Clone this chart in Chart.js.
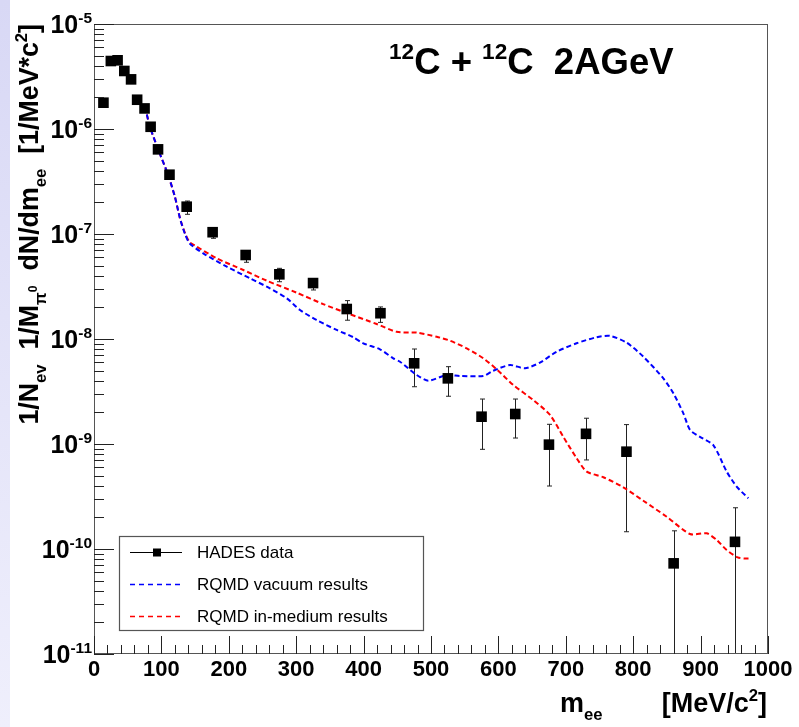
<!DOCTYPE html>
<html>
<head>
<meta charset="utf-8">
<script src="https://cdn.jsdelivr.net/npm/chart.js@4.4.1/dist/chart.umd.min.js"></script>
<style>
html,body{margin:0;padding:0;background:#fff;overflow:hidden;}
#wrap{position:relative;width:799px;height:727px;}
#strip{position:absolute;left:0;top:0;width:10px;height:727px;background:linear-gradient(#d8d8f5,#efeffc);}
#c{position:absolute;left:0;top:0;}
</style>
</head>
<body>
<div id="wrap"><div id="strip"></div><canvas id="c" width="799" height="727"></canvas></div>
<script>
// ---------- data ----------
const seriesNames = ['HADES data', 'RQMD vacuum results', 'RQMD in-medium results'];

const hadesMass  = [14, 25, 35, 45, 55, 64, 75, 84, 95, 112, 137.5, 176, 225, 275, 325, 375, 425, 475, 525, 575, 625, 675, 730, 790, 860, 951];
const hadesYield = [1.78e-6, 4.44e-6, 4.51e-6, 3.57e-6, 2.97e-6, 1.90e-6, 1.57e-6, 1.05e-6, 6.4e-7, 3.67e-7, 1.82e-7, 1.04e-7, 6.31e-8, 4.13e-8, 3.41e-8, 1.93e-8, 1.76e-8, 5.87e-9, 4.22e-9, 1.82e-9, 1.93e-9, 9.86e-10, 1.25e-9, 8.45e-10, 7.3e-11, 1.17e-10];
const hadesUpper = [1.82e-6, 4.5e-6, 4.6e-6, 3.65e-6, 3.03e-6, 1.94e-6, 1.6e-6, 1.08e-6, 6.6e-7, 3.8e-7, 2.06e-7, 1.15e-7, 6.93e-8, 4.71e-8, 3.73e-8, 2.32e-8, 2.02e-8, 8.03e-9, 5.45e-9, 2.68e-9, 2.68e-9, 1.54e-9, 1.76e-9, 1.53e-9, 1.49e-10, 2.47e-10];
const hadesLower = [1.74e-6, 4.38e-6, 4.42e-6, 3.5e-6, 2.91e-6, 1.86e-6, 1.54e-6, 1.02e-6, 6.2e-7, 3.55e-7, 1.54e-7, 9.1e-8, 5.38e-8, 3.51e-8, 2.93e-8, 1.51e-8, 1.44e-8, 3.51e-9, 2.85e-9, 8.9e-10, 1.14e-9, 3.98e-10, 7.05e-10, 1.46e-10, 0, 0];

const vacuumMass  = [75.7, 83, 95.5, 110, 120, 127.6, 135, 142, 162, 197, 231.5, 261, 286, 305.6, 330, 360, 384.8, 399.5, 424.3, 444, 454, 478.8, 496, 523.3, 543, 577.6, 592.4, 617.2, 639.5, 661.7, 686.5, 716, 745.8, 765.6, 790.3, 815, 844.7, 859.6, 874.4, 884.3, 899, 918.8, 938.7, 953.5, 970.8];
const vacuumYield = [1.63e-6, 1.05e-6, 6.31e-7, 3.65e-7, 2.26e-7, 1.41e-7, 1.0e-7, 8.13e-8, 6.55e-8, 4.89e-8, 3.78e-8, 3.04e-8, 2.44e-8, 1.89e-8, 1.52e-8, 1.22e-8, 1.04e-8, 9.1e-9, 7.98e-9, 6.55e-9, 6.08e-9, 4.54e-9, 4.01e-9, 4.54e-9, 4.45e-9, 4.45e-9, 4.99e-9, 5.65e-9, 5.26e-9, 5.96e-9, 7.57e-9, 9.1e-9, 1.04e-8, 1.07e-8, 9.23e-9, 6.79e-9, 4.22e-9, 3.04e-9, 1.96e-9, 1.36e-9, 1.17e-9, 9.77e-10, 5.46e-10, 3.93e-10, 3.04e-10];

const mediumMass  = [75.7, 83, 95.5, 110, 120, 127.6, 135, 142, 150, 182, 221.5, 256, 300.7, 340, 380, 419.4, 449, 478.8, 508.5, 528.2, 553, 577.6, 597.5, 622, 651.8, 676.6, 696.3, 716.2, 731, 755.7, 785.3, 815, 849.7, 884.3, 909, 923.8, 938.7, 955, 965, 975];
const mediumYield = [1.63e-6, 1.05e-6, 6.31e-7, 3.65e-7, 2.26e-7, 1.41e-7, 1.02e-7, 8.32e-8, 7.74e-8, 5.87e-8, 4.54e-8, 3.6e-8, 2.76e-8, 2.15e-8, 1.72e-8, 1.39e-8, 1.17e-8, 1.15e-8, 1.05e-8, 9.64e-9, 8.15e-9, 6.55e-9, 5.14e-9, 3.65e-9, 2.62e-9, 1.89e-9, 1.17e-9, 7.31e-10, 5.46e-10, 4.82e-10, 3.87e-10, 2.88e-10, 2.03e-10, 1.39e-10, 1.41e-10, 1.22e-10, 9.77e-11, 8.32e-11, 8.13e-11, 8.13e-11];

const xTickValues = [0, 100, 200, 300, 400, 500, 600, 700, 800, 900, 1000];
const yTickExponents = [-5, -6, -7, -8, -9, -10, -11];

// ---------- drawing helpers ----------
const FONT = "'Liberation Sans', Arial, Helvetica, sans-serif";
function segFont(kind, size, bold) {
  const f = kind === 'n' ? 1 : (kind === 'subsup' ? 0.45 : 0.62);
  return (bold ? 'bold ' : '') + (size * f).toFixed(1) + 'px ' + FONT;
}
function segDy(kind, size) {
  if (kind === 'sub') return 0.28 * size;
  if (kind === 'sup') return -0.42 * size;
  if (kind === 'subsup') return -0.02 * size;
  return 0;
}
function richWidth(ctx, segs, size, bold) {
  let w = 0;
  segs.forEach(([t, k]) => { ctx.font = segFont(k, size, bold); w += ctx.measureText(t).width; });
  return w;
}
function drawRich(ctx, segs, x, y, size, bold) {
  let cx = x;
  ctx.textBaseline = 'alphabetic';
  ctx.textAlign = 'left';
  segs.forEach(([t, k]) => {
    ctx.font = segFont(k, size, bold);
    ctx.fillText(t, cx, y + segDy(k, size));
    cx += ctx.measureText(t).width;
  });
}

const rootDecor = {
  id: 'rootDecor',
  beforeDatasetsDraw(chart) {
    const { ctx, chartArea: a, scales: { x, y } } = chart;
    ctx.save();
    ctx.beginPath();
    ctx.rect(a.left, a.top, a.right - a.left, a.bottom - a.top);
    ctx.clip();
    ctx.strokeStyle = '#222';
    ctx.lineWidth = 1;
    hadesMass.forEach((m, i) => {
      const px = Math.round(x.getPixelForValue(m)) + 0.5;
      const yt = y.getPixelForValue(hadesUpper[i]);
      const yb = hadesLower[i] > 0 ? y.getPixelForValue(hadesLower[i]) : a.bottom + 5;
      ctx.beginPath();
      ctx.moveTo(px, yt); ctx.lineTo(px, yb);
      ctx.moveTo(px - 2.5, yt); ctx.lineTo(px + 2.5, yt);
      if (hadesLower[i] > 0) { ctx.moveTo(px - 2.5, yb); ctx.lineTo(px + 2.5, yb); }
      ctx.stroke();
    });
    ctx.restore();
  },
  afterDraw(chart) {
    const { ctx, chartArea: a, scales: { x, y } } = chart;
    ctx.save();
    // frame
    ctx.strokeStyle = '#555';
    ctx.lineWidth = 1;
    ctx.strokeRect(a.left + 0.5, a.top + 0.5, a.right - a.left - 1, a.bottom - a.top - 1);
    // x ticks (inside, from bottom)
    ctx.strokeStyle = '#222';
    ctx.beginPath();
    for (let v = 0; v <= 1000; v += 20) {
      const px = Math.round(x.getPixelForValue(v)) + 0.5;
      const len = v % 100 === 0 ? 18 : 9;
      ctx.moveTo(px, a.bottom); ctx.lineTo(px, a.bottom - len);
    }
    // y ticks (inside, from left)
    for (let d = -11; d <= -5; d++) {
      for (let m = 1; m <= 9; m++) {
        const v = m * Math.pow(10, d);
        if (v > 1.0001e-5) break;
        const py = Math.round(y.getPixelForValue(v)) + 0.5;
        const len = m === 1 ? 20 : 10;
        ctx.moveTo(a.left, py); ctx.lineTo(a.left + len, py);
      }
    }
    ctx.stroke();
    // y tick labels 10^n
    ctx.fillStyle = '#000';
    yTickExponents.forEach(e => {
      const py = y.getPixelForValue(Math.pow(10, e));
      const segs = [['10', 'n'], [String(e), 'sup']];
      const w = richWidth(ctx, segs, 25, true);
      drawRich(ctx, segs, 92 - w, py + 9, 25, true);
    });
    // title
    const title = [['12', 'sup'], ['C + ', 'n'], ['12', 'sup'], ['C  2AGeV', 'n']];
    drawRich(ctx, title, 389, 74, 36.5, true);
    // x-axis title
    const xt1 = [['m', 'n'], ['ee', 'sub']];
    const xt2 = [['[MeV/c', 'n'], ['2', 'sup'], [']', 'n']];
    const w2 = richWidth(ctx, xt2, 27, true);
    drawRich(ctx, xt2, 767 - w2, 712, 27, true);
    drawRich(ctx, xt1, 560, 712, 27, true);
    // y-axis title (rotated)
    const yt = [['1/N', 'n'], ['ev', 'sub'], ['  1/M', 'n'], ['\u03c0', 'sub'], ['0', 'subsup'], ['  dN/dm', 'n'], ['ee', 'sub'], ['  [1/MeV*c', 'n'], ['2', 'sup'], [']', 'n']];
    const wy = richWidth(ctx, yt, 26.8, true);
    ctx.save();
    ctx.translate(38, 24);
    ctx.rotate(-Math.PI / 2);
    drawRich(ctx, yt, -wy, 0, 26.8, true);
    ctx.restore();
    // legend
    ctx.fillStyle = '#fff';
    ctx.fillRect(119, 536, 304, 95);
    ctx.strokeStyle = '#555';
    ctx.lineWidth = 1.2;
    ctx.strokeRect(119.5, 536.5, 304, 94);
    const rows = [552, 584, 616];
    ctx.strokeStyle = '#000'; ctx.lineWidth = 1;
    ctx.beginPath(); ctx.moveTo(130, rows[0] + 0.5); ctx.lineTo(182, rows[0] + 0.5); ctx.stroke();
    ctx.fillStyle = '#000';
    ctx.fillRect(153, rows[0] - 3.5, 8, 8);
    const dsColors = [chart.data.datasets[1].borderColor, chart.data.datasets[2].borderColor];
    [1, 2].forEach(i => {
      ctx.strokeStyle = dsColors[i - 1];
      ctx.lineWidth = 1.5;
      ctx.setLineDash([5, 4]);
      ctx.beginPath(); ctx.moveTo(130, rows[i] + 0.5); ctx.lineTo(183, rows[i] + 0.5); ctx.stroke();
    });
    ctx.setLineDash([]);
    ctx.fillStyle = '#000';
    ctx.font = '17px ' + FONT;
    ctx.textBaseline = 'middle';
    ctx.textAlign = 'left';
    seriesNames.forEach((n, i) => ctx.fillText(n, 197, rows[i] + 1));
    ctx.restore();
  }
};

const chart = new Chart(document.getElementById('c'), {
  type: 'line',
  data: {
    datasets: [
      {
        label: seriesNames[0],
        data: hadesMass.map((m, i) => ({ x: m, y: hadesYield[i] })),
        showLine: false,
        pointStyle: 'rect',
        pointRadius: 7.5,
        pointBackgroundColor: '#000',
        pointBorderColor: '#000',
        pointBorderWidth: 0,
        borderColor: '#000',
        backgroundColor: '#000'
      },
      {
        label: seriesNames[1],
        data: vacuumMass.map((m, i) => ({ x: m, y: vacuumYield[i] })),
        borderColor: '#0000ff',
        borderWidth: 2,
        borderDash: [5, 3],
        pointRadius: 0,
        tension: 0.25,
        fill: false
      },
      {
        label: seriesNames[2],
        data: mediumMass.map((m, i) => ({ x: m, y: mediumYield[i] })),
        borderColor: '#ff0000',
        borderWidth: 2,
        borderDash: [5, 3],
        pointRadius: 0,
        tension: 0.25,
        fill: false
      }
    ]
  },
  options: {
    responsive: false,
    animation: false,
    devicePixelRatio: 1,
    layout: { padding: { left: 0, top: 24, right: 31, bottom: 0 } },
    plugins: { legend: { display: false }, tooltip: { enabled: false }, title: { display: false } },
    scales: {
      x: {
        type: 'linear',
        min: 0, max: 1000,
        afterBuildTicks: s => { s.ticks = xTickValues.map(v => ({ value: v })); },
        afterFit: s => { s.height = 73; },
        grid: { display: false, drawTicks: false },
        border: { display: false },
        ticks: {
          color: '#000',
          padding: 3,
          maxRotation: 0,
          autoSkip: false,
          font: { family: FONT, size: 22, weight: 'bold' },
          callback: v => String(v)
        }
      },
      y: {
        type: 'logarithmic',
        min: 1e-11, max: 1e-5,
        afterFit: s => { s.width = 94; },
        grid: { display: false, drawTicks: false },
        border: { display: false },
        ticks: { display: false }
      }
    }
  },
  plugins: [rootDecor]
});
</script>
</body>
</html>
